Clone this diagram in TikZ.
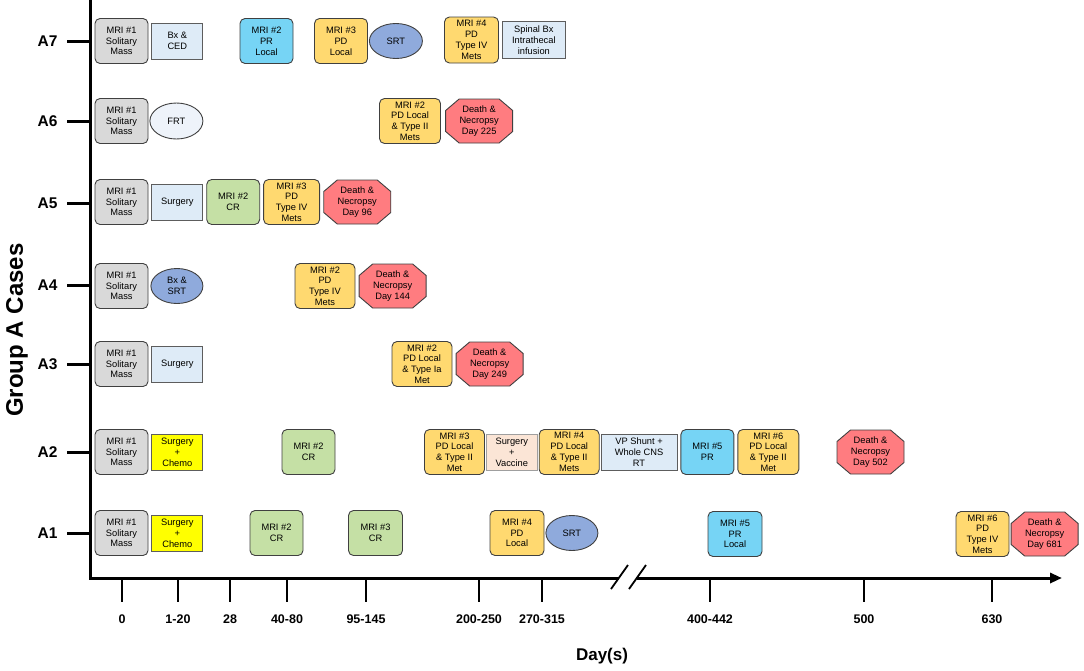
\documentclass[tikz,border=0pt]{standalone}
\usepackage{fontspec}
\setmainfont{Liberation Sans}
\usetikzlibrary{positioning, shapes.geometric, arrows.meta}

\definecolor{mrigray}{RGB}{217,217,217}
\definecolor{txblue}{RGB}{222,235,247}
\definecolor{prcyan}{RGB}{118,212,245}
\definecolor{pdyellow}{RGB}{255,217,112}
\definecolor{crgreen}{RGB}{197,224,165}
\definecolor{srtblue}{RGB}{143,170,220}
\definecolor{frtwhite}{RGB}{238,243,250}
\definecolor{deathred}{RGB}{255,124,128}
\definecolor{chemoyellow}{RGB}{255,255,0}
\definecolor{vaccpeach}{RGB}{251,229,214}
\definecolor{edge}{RGB}{64,64,64}

\begin{document}
\begin{tikzpicture}[x=1pt,y=-1pt,font=\fontsize{9.3}{10.8}\selectfont]
    \tikzstyle{mri}=[rectangle,rounded corners=5pt,draw=edge,line width=0.9pt,align=center,minimum width=53pt,minimum height=45pt,inner sep=0.5pt]
    \tikzstyle{base}=[mri,fill=mrigray]
    \tikzstyle{pd}=[mri,fill=pdyellow]
    \tikzstyle{pr}=[mri,fill=prcyan]
    \tikzstyle{cr}=[mri,fill=crgreen]
    \tikzstyle{tx}=[rectangle,draw=edge!85,line width=0.8pt,fill=txblue,align=center,minimum width=51pt,minimum height=36pt,inner sep=0.5pt]
    \tikzstyle{rt}=[ellipse,draw=edge,line width=0.9pt,fill=srtblue,align=center,minimum width=53pt,minimum height=35pt,inner sep=0pt]
    \tikzstyle{death}=[rectangle,fill=white,align=center,minimum width=68pt,minimum height=45pt,inner sep=0pt,
        path picture={\draw[draw=edge,line width=0.9pt,fill=deathred]
            ([xshift=14pt,yshift=-0.5pt]path picture bounding box.north west) -- ([xshift=-14pt,yshift=-0.5pt]path picture bounding box.north east)
            -- ([xshift=-0.5pt,yshift=-12pt]path picture bounding box.north east) -- ([xshift=-0.5pt,yshift=12pt]path picture bounding box.south east)
            -- ([xshift=-14pt,yshift=0.5pt]path picture bounding box.south east) -- ([xshift=14pt,yshift=0.5pt]path picture bounding box.south west)
            -- ([xshift=0.5pt,yshift=12pt]path picture bounding box.south west) -- ([xshift=0.5pt,yshift=-12pt]path picture bounding box.north west) -- cycle;}]
    \tikzstyle{axis}=[line width=3pt]

    \useasboundingbox (0,0) rectangle (1084,670);

    % axes
    \coordinate (top) at (90,0);
    \coordinate (orig) at (90,578);
    \coordinate (brkL) at (619,578);
    \coordinate (brkR) at (637,578);
    \coordinate (tip) at (1062,578);
    \draw[axis] (top) -- (orig) -- (brkL);
    \draw[axis,-{Triangle[length=12pt,width=10pt]}] (brkR) -- (tip);
    \draw[line width=1.8pt] (brkL) ++(-8,11) -- ++(17,-24);
    \draw[line width=1.8pt] (brkR) ++(-8,11) -- ++(17,-24);

    \foreach \y/\c in {41/A7,121/A6,203/A5,285/A4,364/A3,452/A2,533/A1}{
        \node[font=\bfseries\fontsize{15.5}{18}\selectfont,anchor=east] (lab\c) at (61,\y) {\c};
        \coordinate (tk\c) at (90,\y);
        \draw[axis] ([xshift=6pt]lab\c.east) -- (tk\c);
    }
    \node[font=\bfseries\fontsize{24}{28}\selectfont,rotate=90] (cases) at (17,330) {Group A Cases};

    \foreach \x/\d [count=\i] in {122/0,178/1-20,230/28,287/40-80,366/95-145,479/200-250,542/270-315,710/400-442,864/500,992/630}{
        \coordinate (xt\i) at (\x,578);
        \node[font=\bfseries\fontsize{12.5}{15}\selectfont] (day\i) at (\x,619) {\d};
        \draw[line width=2pt] (xt\i) -- ++(0,24);
    }
    \node[font=\bfseries\fontsize{17}{20}\selectfont] (days) at (602,656) {Day(s)};

    % A7
    \node[base] (a7m1) at (121.5,41) {MRI \#1\\Solitary\\Mass};
    \node[tx] (a7bx) [right=3pt of a7m1] {Bx \&\\CED};
    \node[pr] (a7m2) at (266.5,41) {MRI \#2\\PR\\Local};
    \node[pd] (a7m3) at (341,41) {MRI \#3\\PD\\Local};
    \node[rt] (a7srt) [right=1pt of a7m3] {SRT};
    \node[pd,minimum width=54pt,minimum height=46pt] (a7m4) at (471.5,40) {MRI \#4\\PD\\Type IV\\Mets};
    \node[tx,minimum width=63pt,minimum height=37pt] (a7sp) [right=3pt of a7m4] {Spinal Bx\\Intrathecal\\infusion};

    % A6
    \node[base] (a6m1) at (121.5,121) {MRI \#1\\Solitary\\Mass};
    \node[rt,fill=frtwhite,minimum height=36pt] (a6frt) [right=1pt of a6m1] {FRT};
    \node[pd,minimum width=61pt] (a6m2) at (410,121) {MRI \#2\\PD Local\\\& Type II\\Mets};
    \node[death] (a6d) [right=4pt of a6m2] {Death \&\\Necropsy\\Day 225};

    % A5
    \node[base] (a5m1) at (121.5,202) {MRI \#1\\Solitary\\Mass};
    \node[tx] (a5su) [right=3pt of a5m1] {Surgery};
    \node[cr] (a5m2) [right=3pt of a5su] {MRI \#2\\CR};
    \node[pd,minimum width=56pt] (a5m3) [right=3pt of a5m2] {MRI \#3\\PD\\Type IV\\Mets};
    \node[death] (a5d) [right=3pt of a5m3] {Death \&\\Necropsy\\Day 96};

    % A4
    \node[base] (a4m1) at (121.5,286) {MRI \#1\\Solitary\\Mass};
    \node[rt,minimum width=52pt] (a4bx) [right=2pt of a4m1] {Bx \&\\SRT};
    \node[pd,minimum width=60pt] (a4m2) at (325,286) {MRI \#2\\PD\\Type IV\\Mets};
    \node[death] (a4d) [right=3pt of a4m2] {Death \&\\Necropsy\\Day 144};

    % A3
    \node[base] (a3m1) at (121.5,364) {MRI \#1\\Solitary\\Mass};
    \node[tx] (a3su) [right=3pt of a3m1] {Surgery};
    \node[pd,minimum width=60pt] (a3m2) at (422,364) {MRI \#2\\PD Local\\\& Type Ia\\Met};
    \node[death] (a3d) [right=3pt of a3m2] {Death \&\\Necropsy\\Day 249};

    % A2
    \node[base] (a2m1) at (121.5,452) {MRI \#1\\Solitary\\Mass};
    \node[tx,fill=chemoyellow] (a2sc) [right=3pt of a2m1] {Surgery\\+\\Chemo};
    \node[cr] (a2m2) at (308.5,452) {MRI \#2\\CR};
    \node[pd,minimum width=60pt] (a2m3) at (454.5,452) {MRI \#3\\PD Local\\\& Type II\\Met};
    \node[tx,fill=vaccpeach,draw=edge!50] (a2sv) [right=1pt of a2m3] {Surgery\\+\\Vaccine};
    \node[pd,minimum width=60pt] (a2m4) [right=1pt of a2sv] {MRI \#4\\PD Local\\\& Type II\\Mets};
    \node[tx,minimum width=76pt] (a2vp) [right=1pt of a2m4] {VP Shunt +\\Whole CNS\\RT};
    \node[pr] (a2m5) [right=3pt of a2vp] {MRI \#5\\PR};
    \node[pd,minimum width=61pt] (a2m6) [right=3pt of a2m5] {MRI \#6\\PD Local\\\& Type II\\Met};
    \node[death] (a2d) at (870.5,452) {Death \&\\Necropsy\\Day 502};

    % A1
    \node[base] (a1m1) at (121.5,533) {MRI \#1\\Solitary\\Mass};
    \node[tx,fill=chemoyellow] (a1sc) [right=3pt of a1m1] {Surgery\\+\\Chemo};
    \node[cr] (a1m2) at (276.5,533) {MRI \#2\\CR};
    \node[cr,minimum width=54pt] (a1m3) at (375.5,533) {MRI \#3\\CR};
    \node[pd,minimum width=54pt] (a1m4) at (517,533) {MRI \#4\\PD\\Local};
    \node[rt,minimum width=52pt] (a1srt) [right=1pt of a1m4] {SRT};
    \node[pr,minimum width=54pt] (a1m5) at (735,534) {MRI \#5\\PR\\Local};
    \node[pd] (a1m6) at (982.5,534) {MRI \#6\\PD\\Type IV\\Mets};
    \node[death] (a1d) [right=1pt of a1m6] {Death \&\\Necropsy\\Day 681};
\end{tikzpicture}
\end{document}
